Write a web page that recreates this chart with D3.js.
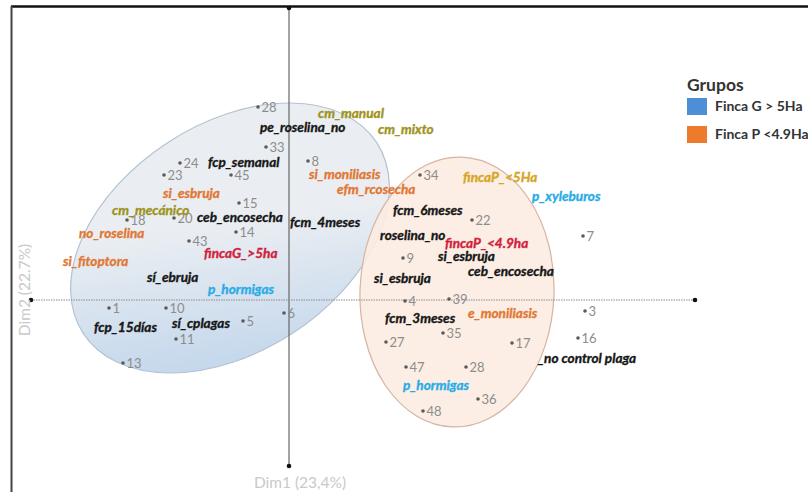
<!DOCTYPE html>
<html>
<head>
<meta charset="utf-8">
<script src="https://cdn.jsdelivr.net/npm/d3@7"></script>
<style>
  body { margin: 0; background: #fff; }
  svg { display: block; font-family: Lato, 'Open Sans', sans-serif; }
</style>
</head>
<body>
<div id="chart"></div>
<script>
// Individuos (coordenadas Dim1 / Dim2)
const pointIds = ['28', '33', '24', '23', '45', '15', '8', '18', '20', '14', '43', '1', '10', '5', '11', '13', '6',
  '34', '22', '7', '9', '4', '39', '3', '35', '27', '17', '16', '47', '28', '36', '48'];
const pointDim1 = [-0.155, -0.115, -0.545, -0.625, -0.29, -0.25, 0.095, -0.81, -0.575, -0.265, -0.50, -0.90, -0.615, -0.23, -0.565, -0.83, -0.025,
  0.655, 0.915, 1.47, 0.57, 0.58, 0.80, 1.48, 0.77, 0.485, 1.115, 1.445, 0.585, 0.885, 0.945, 0.67];
const pointDim2 = [0.965, 0.765, 0.685, 0.625, 0.625, 0.485, 0.695, 0.40, 0.41, 0.34, 0.295, -0.04, -0.04, -0.105, -0.195, -0.315, -0.065,
  0.625, 0.40, 0.32, 0.21, -0.005, 0.005, -0.055, -0.165, -0.21, -0.215, -0.19, -0.335, -0.335, -0.495, -0.555];

// Modalidades
const catLabels = ['cm_manual', 'pe_roselina_no', 'cm_mixto', 'fcp_semanal', 'si_moniliasis', 'efm_rcosecha',
  'fincaP_<5Ha', 'p_xyleburos', 'fcm_6meses', 'fcm_4meses', 'si_esbruja', 'cm_mecánico', 'ceb_encosecha',
  'no_roselina', 'fincaG_>5ha', 'si_fitoptora', 'sí_ebruja', 'p_hormigas', 'fcp_15días', 'sí_cplagas',
  'roselina_no', 'fincaP_<4.9ha', 'si_esbruja', 'ceb_encosecha', 'si_esbruja', 'fcm_3meses', 'e_moniliasis',
  '_no control plaga', 'p_hormigas'];
const catDim1 = [0.145, -0.145, 0.445, -0.405, 0.10, 0.24, 0.87, 1.215, 0.52, 0.005, -0.63, -0.885, -0.46,
  -1.05, -0.425, -1.13, -0.71, -0.405, -0.975, -0.585, 0.455, 0.78, 0.745, 0.895, 0.425, 0.48, 0.895, 1.245, 0.57];
const catDim2 = [0.935, 0.865, 0.855, 0.69, 0.63, 0.555, 0.615, 0.52, 0.45, 0.39, 0.535, 0.45, 0.415,
  0.335, 0.235, 0.195, 0.115, 0.055, -0.135, -0.115, 0.325, 0.285, 0.22, 0.145, 0.11, -0.09, -0.065, -0.29, -0.425];
const catKind = ['control', 'manejo', 'control', 'manejo', 'enfermedad', 'enfermedad', 'fincaP', 'plaga', 'manejo', 'manejo',
  'enfermedad', 'control', 'manejo', 'enfermedad', 'finca', 'enfermedad', 'manejo', 'plaga', 'manejo', 'manejo',
  'manejo', 'finca', 'manejo', 'manejo', 'manejo', 'manejo', 'enfermedad', 'manejo', 'plaga'];

// Grupos (elipses de confianza)
const groupNames = ['Finca G > 5Ha', 'Finca P <4.9Ha'];
const groupCx = [-0.295, 0.84];
const groupCy = [0.31, 0.04];
const groupRx = [0.875, 0.485];
const groupRy = [0.57, 0.675];
const groupAngle = [33, -2];

const axisTitles = ['Dim1 (23,4%)', 'Dim2 (22.7%)'];
const dim1Extent = [-1.29, 2.03];
const dim2Extent = [-0.83, 1.46];

// Dimensions
const width = 808;
const height = 492;

const svg = d3.select('#chart')
  .append('svg')
    .attr('width', width)
    .attr('height', height)

// Scales
const x = d3.scaleLinear().domain(dim1Extent).range([31, 695]);
const y = d3.scaleLinear().domain(dim2Extent).range([466, 8]);
const kindColor = d3.scaleOrdinal()
  .domain(['manejo', 'enfermedad', 'control', 'fincaP', 'finca', 'plaga'])
  .range(['#161616', '#e27733', '#9d931c', '#d5a524', '#d2203c', '#28ace6'])
const groupFill = ['url(#gradG)', '#fcece2'];
const groupStroke = ['#b4c2d0', '#d6b4a2'];
const legendColor = ['#4c8fd6', '#ee7a2c'];

// Gradient for the big farms ellipse
const defs = svg.append('defs');
const grad = defs.append('linearGradient')
  .attr('id', 'gradG')
  .attr('gradientUnits', 'userSpaceOnUse')
  .attr('x1', x(groupCx[0] + 0.1)).attr('y1', y(groupCy[0] + 0.7))
  .attr('x2', x(groupCx[0] - 0.5)).attr('y2', y(groupCy[0] - 0.6))
grad.append('stop').attr('offset', 0).attr('stop-color', '#eaeef2');
grad.append('stop').attr('offset', 1).attr('stop-color', '#9ec0e6');

// Frame
svg.append('line')
  .attr('x1', 11).attr('y1', 6.5).attr('x2', width).attr('y2', 6.5)
  .attr('stroke', '#111').attr('stroke-width', 2.5)
svg.append('line')
  .attr('x1', 11.5).attr('y1', 6).attr('x2', 11.5).attr('y2', height)
  .attr('stroke', '#444').attr('stroke-width', 2)

// Ellipses
svg.append('g')
  .selectAll('ellipse')
  .data(groupNames)
  .join('ellipse')
    .attr('transform', (d, i) => `translate(${x(groupCx[i])}, ${y(groupCy[i])}) rotate(${-groupAngle[i]})`)
    .attr('rx', (d, i) => x(groupCx[i] + groupRx[i]) - x(groupCx[i]))
    .attr('ry', (d, i) => y(groupCy[i]) - y(groupCy[i] + groupRy[i]))
    .attr('fill', (d, i) => groupFill[i])
    .attr('fill-opacity', (d, i) => i === 1 ? 0.9 : 1)
    .attr('stroke', (d, i) => groupStroke[i])
    .attr('stroke-width', 1.2)

// Axes
const axes = svg.append('g');
axes.append('line')
  .attr('x1', x(0)).attr('x2', x(0))
  .attr('y1', y(dim2Extent[1])).attr('y2', y(dim2Extent[0]))
  .attr('stroke', '#666').attr('stroke-width', 1.2)
axes.append('line')
  .attr('x1', x(dim1Extent[0])).attr('x2', x(dim1Extent[1]))
  .attr('y1', y(0)).attr('y2', y(0))
  .attr('stroke', '#8a8a8a').attr('stroke-width', 1.2)
  .attr('stroke-dasharray', '1.5,1')
const ends = [[0, dim2Extent[1]], [0, dim2Extent[0]], [dim1Extent[0], 0], [dim1Extent[1], 0]];
axes.selectAll('circle')
  .data(ends)
  .join('circle')
    .attr('cx', (d) => x(d[0]))
    .attr('cy', (d) => y(d[1]))
    .attr('r', 2.3)
    .attr('fill', '#111')

// Axis titles
svg.append('text')
  .attr('x', x(0) + 11)
  .attr('y', 488)
  .attr('text-anchor', 'middle')
  .attr('font-size', 15.5)
  .attr('fill', '#c9c9c9')
  .text(axisTitles[0])
svg.append('text')
  .attr('transform', `translate(30, ${y(0) - 10}) rotate(-90)`)
  .attr('text-anchor', 'middle')
  .attr('font-size', 15.5)
  .attr('fill', '#c9c9c9')
  .text(axisTitles[1])

// Individuals
const points = svg.append('g');
points.selectAll('circle')
  .data(pointIds)
  .join('circle')
    .attr('cx', (d, i) => x(pointDim1[i]))
    .attr('cy', (d, i) => y(pointDim2[i]))
    .attr('r', 1.8)
    .attr('fill', '#5a5a5a')
points.selectAll('text')
  .data(pointIds)
  .join('text')
    .attr('x', (d, i) => x(pointDim1[i]) + 3.5)
    .attr('y', (d, i) => y(pointDim2[i]))
    .attr('dy', '0.35em')
    .attr('font-size', 13)
    .attr('fill', '#8c8c8c')
    .text((d) => d)

// Categories
svg.append('g')
  .selectAll('text')
  .data(catLabels)
  .join('text')
    .attr('x', (d, i) => x(catDim1[i]))
    .attr('y', (d, i) => y(catDim2[i]))
    .attr('dy', '0.35em')
    .attr('font-size', 13.6)
    .attr('font-weight', 'bold')
    .attr('font-style', 'italic')
    .attr('fill', (d, i) => kindColor(catKind[i]))
    .attr('stroke', (d, i) => kindColor(catKind[i]))
    .attr('stroke-width', 0.35)
    .text((d) => d)

// Legend
const legend = svg.append('g').attr('transform', 'translate(687, 0)');
legend.append('text')
  .attr('x', 0).attr('y', 91)
  .attr('font-size', 17.5)
  .attr('font-weight', 'bold')
  .attr('fill', '#333')
  .text('Grupos')
const items = legend.selectAll('g.item')
  .data(groupNames)
  .join('g')
    .attr('class', 'item')
    .attr('transform', (d, i) => `translate(0, ${98 + i * 28})`)
items.append('rect')
  .attr('width', 20).attr('height', 17)
  .attr('fill', (d, i) => legendColor[i])
items.append('text')
  .attr('x', 28).attr('y', 8.5)
  .attr('dy', '0.35em')
  .attr('font-size', 14)
  .attr('font-weight', 'bold')
  .attr('fill', '#333')
  .text((d) => d)
</script>
</body>
</html>
